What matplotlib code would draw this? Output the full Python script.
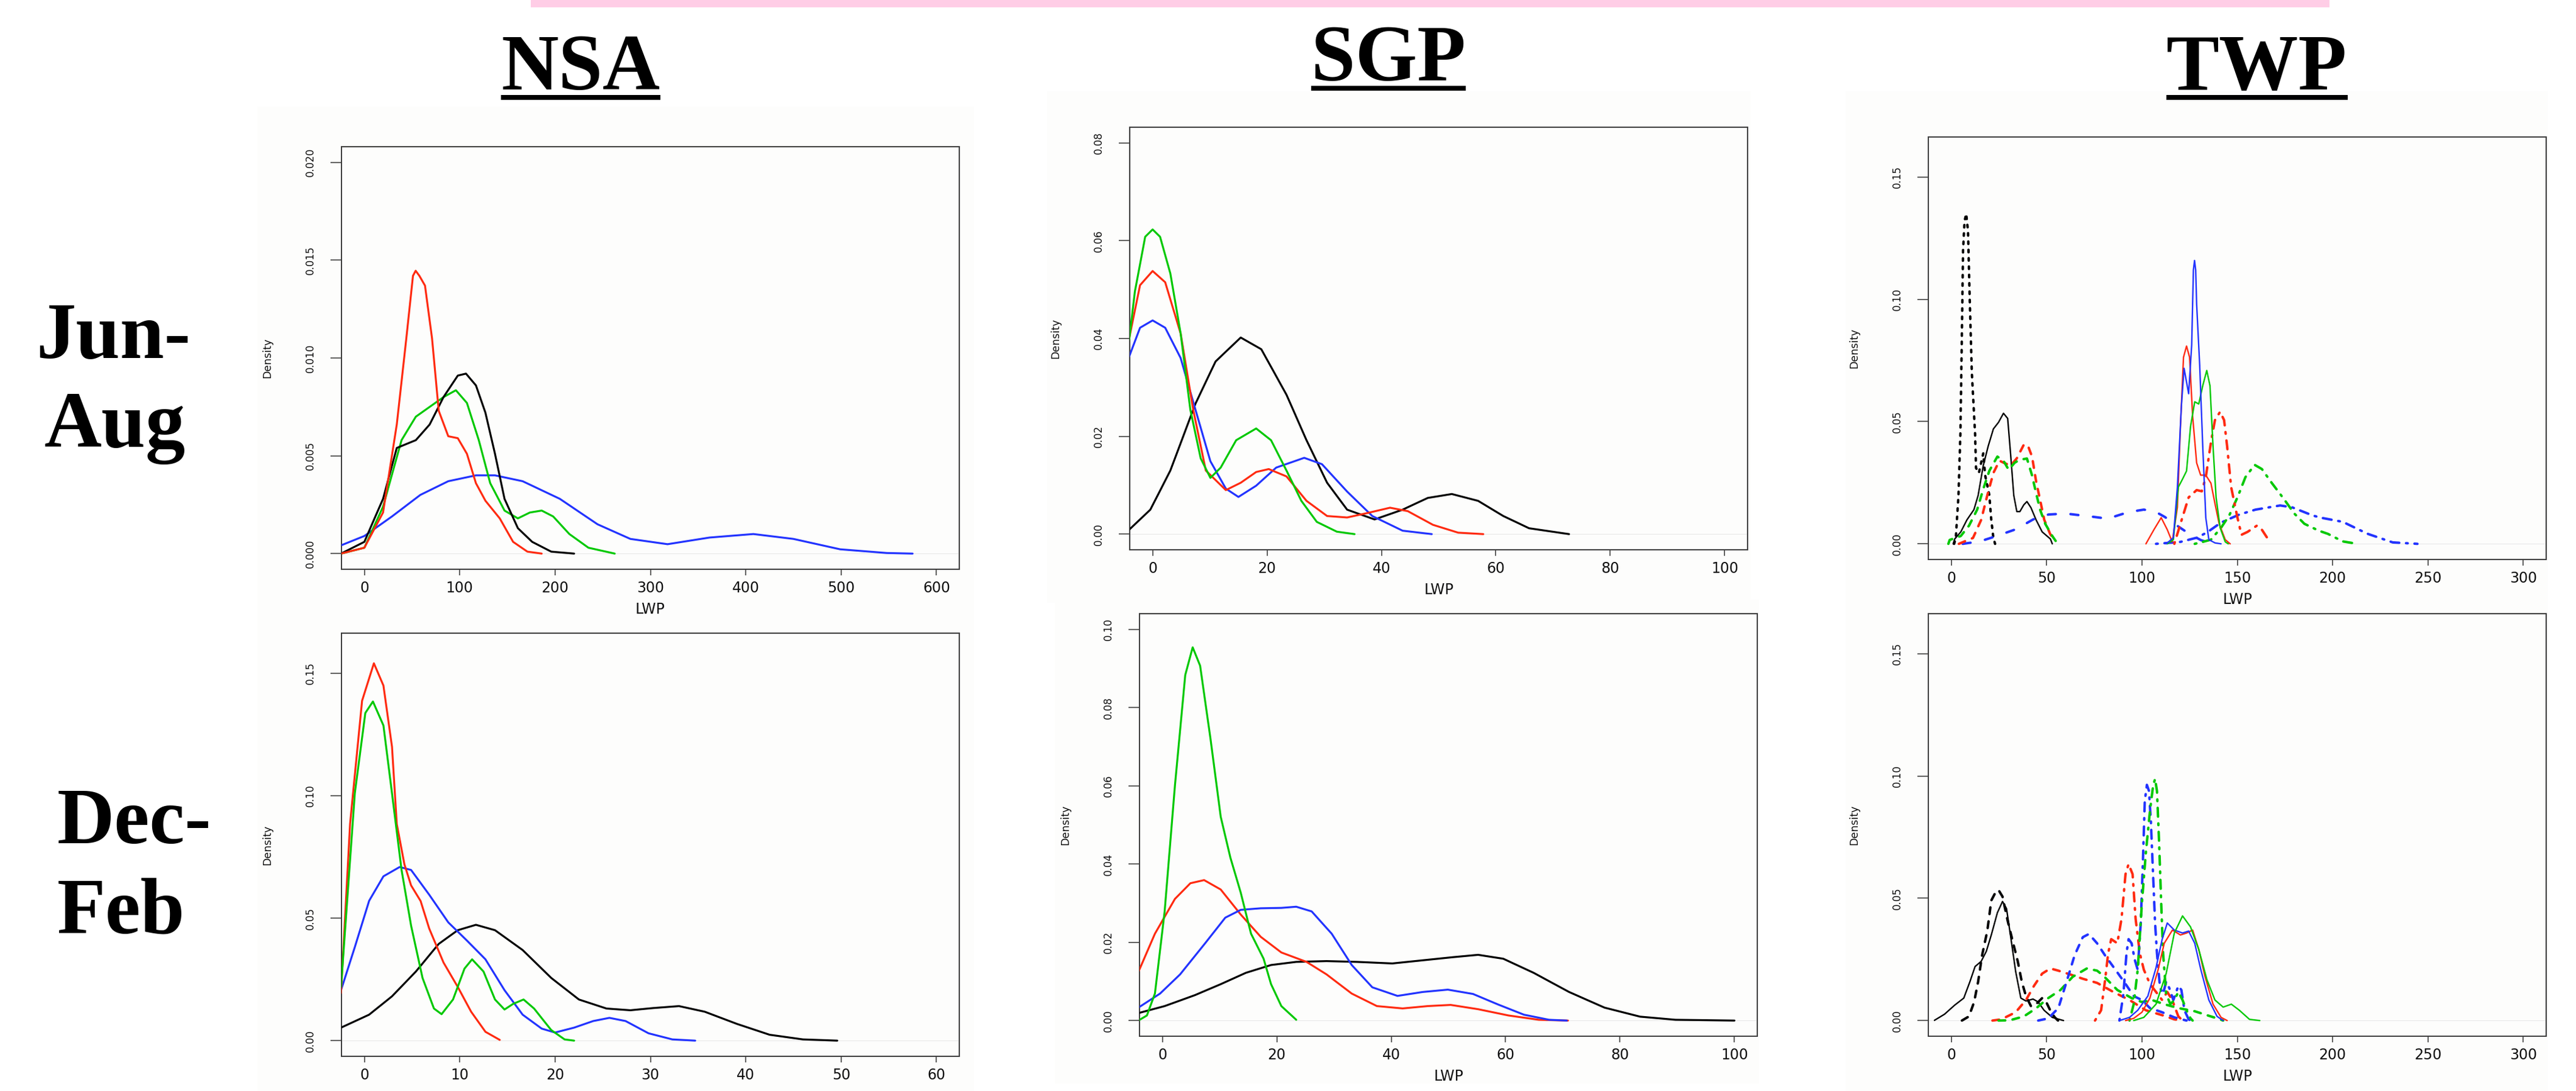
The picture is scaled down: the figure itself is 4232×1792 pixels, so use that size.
import matplotlib
matplotlib.use("Agg")
import matplotlib.pyplot as plt
from matplotlib.patches import Rectangle

W, H, DPI = 4232, 1792, 100

# ---------------- labels ----------------
sites = ["NSA", "SGP", "TWP"]
seasons = [["Jun-", "Aug"], ["Dec-", "Feb"]]
xlabel_text = "LWP"
ylabel_text = "Density"

# ---------------- axis ranges / ticks (R pads each range by 4%) ----------------
nsa_jja_xr, nsa_jja_yr = [0, 600], [0, 0.02]
nsa_jja_xt, nsa_jja_yt = [0, 100, 200, 300, 400, 500, 600], [0, 0.005, 0.010, 0.015, 0.020]
sgp_jja_xr, sgp_jja_yr = [0, 100], [0, 0.08]
sgp_jja_xt, sgp_jja_yt = [0, 20, 40, 60, 80, 100], [0, 0.02, 0.04, 0.06, 0.08]
twp_jja_xr, twp_jja_yr = [0, 300], [0, 0.16]
twp_jja_xt, twp_jja_yt = [0, 50, 100, 150, 200, 250, 300], [0, 0.05, 0.10, 0.15]
nsa_djf_xr, nsa_djf_yr = [0, 60], [0, 0.16]
nsa_djf_xt, nsa_djf_yt = [0, 10, 20, 30, 40, 50, 60], [0, 0.05, 0.10, 0.15]
sgp_djf_xr, sgp_djf_yr = [0, 100], [0, 0.10]
sgp_djf_xt, sgp_djf_yt = [0, 20, 40, 60, 80, 100], [0, 0.02, 0.04, 0.06, 0.08, 0.10]
twp_djf_xr, twp_djf_yr = [0, 300], [0, 0.16]
twp_djf_xt, twp_djf_yt = [0, 50, 100, 150, 200, 250, 300], [0, 0.05, 0.10, 0.15]

# ---------------- NSA Jun-Aug ----------------
nsa_jja_red_x = [-24.5, 0, 19.6, 34, 44, 51, 53.8, 57.7, 63.6, 71, 78, 88, 98, 107.6, 117, 127, 142, 156, 171, 186]
nsa_jja_red_y = [0, 0.0003, 0.0021, 0.0066, 0.011, 0.0142, 0.01446, 0.0142, 0.0137, 0.011, 0.0073, 0.006, 0.0059, 0.0051, 0.0036, 0.0027, 0.0018, 0.0006, 0.0001, 0]
nsa_jja_black_x = [-24.5, 0, 19.6, 34, 54, 68.5, 83, 98, 106.6, 117, 127, 137, 147, 161, 176, 196, 220]
nsa_jja_black_y = [0, 0.0006, 0.0028, 0.0054, 0.0058, 0.0066, 0.008, 0.0091, 0.0092, 0.0086, 0.0072, 0.0051, 0.0028, 0.0013, 0.0006, 0.0001, 0]
nsa_jja_green_x = [-24.5, 0, 19.6, 39, 54, 68.5, 83, 96, 107.6, 120, 132, 147, 161, 173.6, 186, 198, 215, 235, 262.6]
nsa_jja_green_y = [0, 0.0003, 0.0024, 0.0058, 0.007, 0.0075, 0.008, 0.00835, 0.0077, 0.0058, 0.0036, 0.0022, 0.0018, 0.0021, 0.0022, 0.0019, 0.001, 0.0003, 0]
nsa_jja_blue_x = [-24.5, 0, 29, 58.7, 88, 117, 137, 166, 205, 244.5, 279, 318, 362, 408, 450, 499, 548, 575]
nsa_jja_blue_y = [0.00042, 0.0009, 0.0019, 0.003, 0.0037, 0.004, 0.004, 0.0037, 0.0028, 0.0015, 0.00075, 0.00048, 0.00082, 0.001, 0.00075, 0.00022, 0.00003, 0]

# ---------------- SGP Jun-Aug ----------------
sgp_jja_green_x = [-4.1, -3.1, -1.3, 0, 1.3, 3.1, 4.9, 6.6, 8.4, 10.1, 11.9, 14.6, 18.1, 20.7, 23.4, 26, 28.7, 32.2, 35.3]
sgp_jja_green_y = [0.0397, 0.0496, 0.0608, 0.0623, 0.0608, 0.0533, 0.041, 0.0254, 0.0155, 0.0115, 0.0136, 0.0192, 0.0216, 0.0192, 0.013, 0.0068, 0.0025, 0.0005, 0]
sgp_jja_red_x = [-4.1, -2.2, 0, 2.2, 4.9, 7.1, 9.3, 12.8, 15.4, 18.1, 20.3, 23.4, 26.9, 30.5, 34, 37.5, 41.5, 44.6, 49, 53.4, 57.8]
sgp_jja_red_y = [0.040, 0.0509, 0.0538, 0.0515, 0.041, 0.0254, 0.013, 0.009, 0.0105, 0.0127, 0.0133, 0.0118, 0.0068, 0.0037, 0.0034, 0.0043, 0.0054, 0.0047, 0.0019, 0.0003, 0]
sgp_jja_blue_x = [-4.1, -2.2, 0, 2.2, 4.9, 7.5, 10.1, 12.8, 15, 18.1, 21.6, 26.5, 29.6, 34, 38.4, 43.7, 48.8]
sgp_jja_blue_y = [0.0363, 0.0422, 0.0437, 0.0422, 0.036, 0.0254, 0.0149, 0.0093, 0.0076, 0.0099, 0.0136, 0.0156, 0.0143, 0.0087, 0.0037, 0.0007, 0]
sgp_jja_black_x = [-4.1, -0.4, 3.1, 7.5, 11, 15.4, 19, 23.4, 26.9, 30.5, 34, 38.8, 43.7, 48.1, 52.3, 56.9, 61.3, 65.8, 72.8]
sgp_jja_black_y = [0.0009, 0.005, 0.013, 0.0267, 0.0353, 0.0402, 0.0378, 0.0285, 0.0192, 0.0105, 0.005, 0.003, 0.005, 0.0074, 0.0082, 0.0068, 0.0037, 0.0012, 0]

# ---------------- TWP Jun-Aug ----------------
twp_jja_black_dot_x = [1.5, 2.4, 3.8, 4.8, 5.6, 6.2, 7.0, 7.85, 8.8, 9.7, 10.8, 12.5, 13.0, 14.5, 16.8, 17.8, 19.96, 21.0, 22.1, 23]
twp_jja_black_dot_y = [0, 0.0024, 0.02, 0.045, 0.086, 0.12, 0.132, 0.135, 0.128, 0.1, 0.07, 0.045, 0.031, 0.029, 0.037, 0.028, 0.02, 0.0098, 0.0024, 0]
twp_jja_black_x = [1.0, 1.83, 5.03, 8.23, 11.9, 14.1, 16.8, 19.4, 22.1, 24.8, 27.4, 29.6, 31.2, 32.8, 34.4, 36, 38.1, 39.7, 41.8, 44.5, 47.7, 52, 53]
twp_jja_black_y = [0, 0.002, 0.0049, 0.0098, 0.014, 0.0198, 0.032, 0.04, 0.047, 0.0497, 0.0534, 0.0513, 0.036, 0.0198, 0.0132, 0.0132, 0.016, 0.0173, 0.0148, 0.0098, 0.0049, 0.002, 0]
twp_jja_red_dash_x = [4.0, 6.1, 11.4, 15.7, 18.9, 22.1, 25.3, 28.0, 31.2, 34.4, 38.1, 40.2, 42.4, 44.5, 46.6, 48.8, 51.9, 54.6]
twp_jja_red_dash_y = [0, 0.0007, 0.0024, 0.0098, 0.0198, 0.029, 0.034, 0.033, 0.032, 0.035, 0.0406, 0.0402, 0.0356, 0.0256, 0.018, 0.0098, 0.004, 0.001]
twp_jja_green_dash_x = [-1.5, -0.8, 5.0, 9.3, 13.6, 16.8, 20.0, 24.2, 27.4, 30.1, 33.3, 36.0, 39.7, 42.3, 44.5, 46.6, 49.3, 53.0, 55.2]
twp_jja_green_dash_y = [0, 0.0016, 0.0032, 0.0074, 0.014, 0.0224, 0.0299, 0.0357, 0.034, 0.0303, 0.0332, 0.0344, 0.0349, 0.0282, 0.0208, 0.014, 0.0082, 0.0032, 0.0007]
twp_jja_blue_dash_x = [6, 15, 23, 34, 43, 51, 60, 73, 82, 93, 101, 107, 112, 117, 125, 131, 136, 140]
twp_jja_blue_dash_y = [0, 0.001, 0.003, 0.006, 0.010, 0.012, 0.0124, 0.0112, 0.0103, 0.013, 0.014, 0.0132, 0.011, 0.0082, 0.004, 0.0015, 0.0003, 0]
twp_jja_red_x = [102.1, 106.3, 110.1, 113.3, 115.9, 118.6, 120.2, 121.8, 123.4, 125, 126.6, 128.7, 130.8, 133.5, 136.2, 138.3, 140.5, 143.7, 146.3]
twp_jja_red_y = [0, 0.0058, 0.0107, 0.0058, 0.0008, 0.0149, 0.048, 0.0763, 0.0809, 0.0763, 0.0522, 0.0331, 0.0281, 0.0281, 0.0248, 0.0165, 0.0082, 0.0017, 0]
twp_jja_blue_x = [112.7, 116.5, 118.6, 120.7, 122.1, 124.5, 126.1, 127.0, 127.6, 128.2, 128.7, 130.3, 131.9, 133.5, 135.1, 138.3, 141.5]
twp_jja_blue_y = [0, 0.0025, 0.0232, 0.0564, 0.0718, 0.0614, 0.0813, 0.112, 0.1159, 0.112, 0.098, 0.073, 0.0398, 0.0107, 0.0017, 0.0004, 0]
twp_jja_green_x = [113.3, 116.5, 119.1, 121.3, 123.4, 125.5, 127.7, 129.8, 131.9, 134.0, 135.7, 137.3, 138.9, 141, 143.7, 145.3]
twp_jja_green_y = [0, 0.0017, 0.0232, 0.0265, 0.0298, 0.048, 0.0581, 0.0572, 0.0647, 0.0709, 0.0647, 0.0398, 0.019, 0.0066, 0.0008, 0]
twp_jja_red_dd_x = [117, 120.2, 124.5, 128.7, 131.4, 133.5, 136.2, 138.3, 141, 143.1, 144.7, 146.8, 150.1, 152.2, 155.4, 160.2, 162.9, 166, 167.6]
twp_jja_red_dd_y = [0, 0.0082, 0.019, 0.022, 0.0215, 0.0273, 0.0415, 0.0506, 0.054, 0.0506, 0.0398, 0.0232, 0.0107, 0.0037, 0.0049, 0.0074, 0.0058, 0.0021, 0.0008]
twp_jja_green_dd_x = [127.7, 131.9, 136.2, 141.5, 145.8, 150.1, 154.3, 159.1, 162.9, 168.2, 174.6, 179.9, 185.2, 192.7, 197.5, 205.3, 213]
twp_jja_green_dd_y = [0, 0.0008, 0.0017, 0.0066, 0.0116, 0.019, 0.0273, 0.0323, 0.0306, 0.0248, 0.0182, 0.0124, 0.0082, 0.0054, 0.0041, 0.001, 0]
twp_jja_blue_dd_x = [107.4, 120.2, 128.7, 134, 141.5, 151.1, 159.6, 172.5, 178.9, 189.6, 193.8, 205.3, 218.4, 231.5, 244.5]
twp_jja_blue_dd_y = [0, 0.0008, 0.0025, 0.0046, 0.0087, 0.012, 0.014, 0.0157, 0.0149, 0.0116, 0.0107, 0.009, 0.0041, 0.0006, 0]

# ---------------- NSA Dec-Feb ----------------
nsa_djf_red_x = [-2.45, -1.5, -0.24, 1.0, 2.0, 2.9, 3.4, 4.2, 4.9, 5.9, 6.8, 8.3, 9.8, 11.2, 12.7, 14.2]
nsa_djf_red_y = [0.0194, 0.0885, 0.1388, 0.1541, 0.145, 0.12, 0.0885, 0.072, 0.0634, 0.057, 0.0458, 0.0319, 0.0219, 0.0118, 0.0036, 0.0003]
nsa_djf_green_x = [-2.45, -1.0, 0.1, 0.9, 2.0, 2.9, 3.9, 4.9, 6.1, 7.3, 8.1, 9.3, 10.5, 11.3, 12.5, 13.7, 14.7, 15.6, 16.7, 17.8, 19.6, 21.0, 22.0]
nsa_djf_green_y = [0.0219, 0.101, 0.1338, 0.1385, 0.1287, 0.101, 0.0697, 0.047, 0.0256, 0.0131, 0.0108, 0.0168, 0.0294, 0.0332, 0.0282, 0.0168, 0.0127, 0.015, 0.0168, 0.0131, 0.0043, 0.0005, 0]
nsa_djf_blue_x = [-2.45, -1.0, 0.5, 2.0, 3.7, 4.9, 6.8, 8.8, 10.8, 12.7, 14.7, 16.6, 18.6, 20.0, 22.0, 24.0, 25.7, 27.4, 29.8, 32.3, 34.7]
nsa_djf_blue_y = [0.0206, 0.0382, 0.0571, 0.0671, 0.0709, 0.0697, 0.0596, 0.0483, 0.0407, 0.0332, 0.0206, 0.0106, 0.0049, 0.0033, 0.0053, 0.008, 0.0093, 0.008, 0.003, 0.0005, 0]
nsa_djf_black_x = [-2.45, 0.5, 2.9, 5.4, 7.8, 9.8, 11.7, 13.7, 16.6, 19.6, 22.5, 25.4, 27.9, 30.3, 33.0, 35.7, 39.1, 42.5, 46.0, 49.6]
nsa_djf_black_y = [0.0053, 0.0106, 0.0181, 0.0282, 0.0395, 0.0451, 0.0473, 0.0451, 0.037, 0.0256, 0.0168, 0.0131, 0.0124, 0.0133, 0.0141, 0.0118, 0.0068, 0.0024, 0.0005, 0]

# ---------------- SGP Dec-Feb ----------------
sgp_djf_green_x = [-4.2, -2.7, -1.3, 0.4, 2.2, 4.0, 5.3, 6.6, 8.4, 10.2, 11.9, 13.7, 15.5, 17.7, 19.0, 20.8, 23.4]
sgp_djf_green_y = [0, 0.0013, 0.0069, 0.0279, 0.0601, 0.0883, 0.0954, 0.0907, 0.0722, 0.0521, 0.0416, 0.0327, 0.0222, 0.0158, 0.0093, 0.0037, 0.0002]
sgp_djf_red_x = [-4.2, -1.3, 2.2, 4.9, 7.3, 10.2, 13.7, 17.2, 20.8, 25.2, 28.7, 33.1, 37.5, 42.0, 46.4, 50.4, 55.2, 60.5, 65.8, 70.9]
sgp_djf_red_y = [0.0124, 0.0222, 0.0311, 0.0351, 0.0359, 0.0335, 0.0271, 0.0214, 0.0174, 0.015, 0.0118, 0.0069, 0.0037, 0.0031, 0.0037, 0.004, 0.0029, 0.0013, 0.0002, 0]
sgp_djf_blue_x = [-4.2, -0.4, 3.1, 7.5, 11.0, 13.7, 17.2, 20.8, 23.4, 26.1, 29.6, 33.1, 36.7, 41.1, 45.5, 49.9, 54.3, 58.7, 63.2, 67.6, 70.7]
sgp_djf_blue_y = [0.0033, 0.0069, 0.0118, 0.0198, 0.0263, 0.0283, 0.0287, 0.0288, 0.0291, 0.0279, 0.0222, 0.0142, 0.0085, 0.0063, 0.0073, 0.0079, 0.0068, 0.0041, 0.0015, 0.0002, 0]
sgp_djf_black_x = [-4.2, 0.4, 5.7, 10.2, 14.6, 19.0, 23.4, 28.7, 34.0, 40.2, 45.5, 50.8, 55.2, 59.6, 64.9, 71.1, 77.3, 83.5, 89.7, 100]
sgp_djf_black_y = [0.0019, 0.0037, 0.0065, 0.0093, 0.0122, 0.0142, 0.015, 0.0152, 0.015, 0.0146, 0.0154, 0.0162, 0.0168, 0.0158, 0.0122, 0.0073, 0.0033, 0.001, 0.0002, 0]

# ---------------- TWP Dec-Feb ----------------
twp_djf_black_x = [-8.8, -3.5, 1.8, 6.6, 9.8, 12.5, 15.7, 18.4, 21.0, 24.2, 26.9, 29.0, 31.2, 33.8, 36.5, 39.2, 42.9, 45.6, 48.7, 53.0, 58.9]
twp_djf_black_y = [0.0001, 0.0026, 0.0063, 0.0092, 0.0159, 0.0221, 0.0242, 0.0283, 0.035, 0.0441, 0.0487, 0.0458, 0.0341, 0.02, 0.0092, 0.008, 0.0088, 0.0076, 0.0042, 0.0013, 0]
twp_djf_black_dash_x = [5.6, 9.3, 12.0, 14.1, 16.2, 18.9, 21.0, 23.2, 24.8, 26.9, 29.6, 32.2, 34.9, 37.0, 39.2, 41.8, 44.5, 47.7, 49.8, 51.9, 54.1, 56]
twp_djf_black_dash_y = [0, 0.0017, 0.0076, 0.0159, 0.0267, 0.0366, 0.0491, 0.0524, 0.0534, 0.0507, 0.0408, 0.0325, 0.0242, 0.0159, 0.01, 0.0059, 0.0067, 0.0092, 0.0076, 0.0042, 0.0015, 0]
twp_djf_red_dash_x = [21.6, 26.3, 33.8, 39.2, 43.4, 47.7, 52.0, 56.2, 62.6, 69.0, 76.5, 85, 93.5, 102.1, 110.6, 117, 121.3]
twp_djf_red_dash_y = [0, 0.0005, 0.0034, 0.0084, 0.0142, 0.0192, 0.0213, 0.0204, 0.0188, 0.0171, 0.0154, 0.0117, 0.0084, 0.0042, 0.0022, 0.0005, 0]
twp_djf_green_dash_x = [24.8, 30.6, 38.1, 44.5, 50.9, 57.3, 63.7, 71.1, 76.5, 79.7, 87.1, 94.6, 99.9, 105.3, 111.7, 119.1, 127.7, 134.1, 139.4, 142.6]
twp_djf_green_dash_y = [0, 0.0001, 0.0017, 0.005, 0.0092, 0.0125, 0.0179, 0.0213, 0.0204, 0.0184, 0.0125, 0.0092, 0.0076, 0.0084, 0.0067, 0.0051, 0.0038, 0.0022, 0.0009, 0]
twp_djf_blue_dash_x = [45.6, 50.9, 56.2, 60.5, 64.7, 69.0, 72.2, 76.5, 80.7, 86.1, 91.4, 95.7, 100, 104.2, 110.6, 117, 123.4]
twp_djf_blue_dash_y = [0, 0.0009, 0.0051, 0.0159, 0.0267, 0.0341, 0.0354, 0.0316, 0.0266, 0.0208, 0.015, 0.01, 0.0084, 0.0051, 0.0034, 0.0013, 0]
twp_djf_red_dd_x = [75.4, 78.6, 80.7, 82.3, 83.9, 87.1, 89.3, 91.4, 93.0, 95.1, 96.7, 98.9, 101, 104.2, 107.4, 110.6, 113.3, 115.9, 119.1, 121.3]
twp_djf_red_dd_y = [0, 0.0042, 0.0167, 0.0275, 0.0333, 0.0316, 0.0416, 0.0599, 0.064, 0.0599, 0.0416, 0.0275, 0.0208, 0.015, 0.0117, 0.0084, 0.0117, 0.0084, 0.0017, 0]
twp_djf_blue_dd_x = [88.2, 90.3, 91.9, 93.0, 94.6, 96.2, 97.8, 99.4, 100.5, 101.5, 102.6, 103.7, 104.7, 105.8, 106.9, 107.9, 109.5, 111.1, 112.7, 114.3, 116.5, 119.1, 120.7, 122.3, 124.5, 125.5]
twp_djf_blue_dd_y = [0, 0.0109, 0.0275, 0.0333, 0.0316, 0.025, 0.0208, 0.04, 0.0648, 0.0898, 0.0964, 0.0939, 0.0815, 0.0607, 0.04, 0.0275, 0.0134, 0.0109, 0.0159, 0.0134, 0.0084, 0.0142, 0.0125, 0.0042, 0.0005, 0]
twp_djf_green_dd_x = [93.5, 95.7, 97.8, 100, 102.1, 104.2, 105.8, 106.9, 107.9, 109, 110.1, 111.1, 112.7, 114.9, 117, 119.1, 121.3, 123.4, 125.5, 126.6]
twp_djf_green_dd_y = [0, 0.0067, 0.0208, 0.0482, 0.069, 0.0856, 0.0956, 0.0989, 0.0939, 0.0731, 0.0482, 0.0275, 0.0109, 0.0067, 0.0084, 0.0117, 0.0084, 0.0042, 0.0009, 0]
twp_djf_red_x = [91.4, 95.7, 100, 104.2, 108.5, 111.7, 116, 120.2, 123.4, 126.6, 129.8, 133, 137.3, 141.5, 144.7]
twp_djf_red_y = [0, 0.0009, 0.0034, 0.0092, 0.0208, 0.0316, 0.037, 0.035, 0.0358, 0.037, 0.0291, 0.0183, 0.0067, 0.0013, 0]
twp_djf_blue_x = [88.2, 93.5, 97.8, 103.1, 107.4, 110.6, 113.3, 117, 121.3, 124.5, 127.7, 130.9, 135.1, 139.4, 142.6]
twp_djf_blue_y = [0, 0.0013, 0.0042, 0.01, 0.0216, 0.0332, 0.0399, 0.037, 0.0358, 0.0366, 0.0316, 0.0208, 0.0084, 0.0017, 0]
twp_djf_green_x = [95.7, 101, 107.4, 112.7, 117, 121.3, 125.5, 129.8, 134.1, 138.3, 142.6, 146.9, 151.1, 156.4, 161.8]
twp_djf_green_y = [0, 0.0013, 0.0067, 0.0192, 0.0358, 0.0428, 0.0383, 0.0291, 0.0167, 0.0084, 0.0055, 0.0067, 0.0042, 0.0005, 0]

# ---------------- styling ----------------
RED, GREEN, BLUE, BLACK = "#ff2a10", "#00c800", "#2233ff", "#000000"
PANEL_BG = "#fdfdfc"
STYLES = {
    "solid": dict(ls="-", lw=2.3),
    "thin": dict(ls="-", lw=1.7),
    "dotted": dict(ls=(0, (1.0, 2.4)), lw=2.9, dash_capstyle="round"),
    "dashed": dict(ls=(0, (2.75, 3.0)), lw=2.9, dash_capstyle="round"),
    "longdash": dict(ls=(0, (3.25, 6.0)), lw=2.9, dash_capstyle="round"),
    "dotdash": dict(ls=(0, (0.7, 2.75, 3.6, 2.75)), lw=2.9, dash_capstyle="round"),
}

plt.rcParams["font.family"] = ["DejaVu Sans"]
plt.rcParams["lines.solid_capstyle"] = "round"

fig = plt.figure(figsize=(W / DPI, H / DPI), dpi=DPI)
fig.patch.set_facecolor("white")


def fig_rect(l, t, r, b, color, z=-5):
    # rectangle given in pixel coords measured from the top-left corner
    fig.patches.append(Rectangle((l / W, 1 - b / H), (r - l) / W, (b - t) / H,
                                 transform=fig.transFigure, facecolor=color,
                                 edgecolor="none", zorder=z))


def panel(box, xr, yr, xt, yt, ydec, curves, xlabel=True):
    l, t, r, b = box
    ax = fig.add_axes([l / W, 1 - b / H, (r - l) / W, (b - t) / H])
    ax.set_facecolor(PANEL_BG)
    px, py = 0.04 * (xr[1] - xr[0]), 0.04 * (yr[1] - yr[0])
    ax.set_xlim(xr[0] - px, xr[1] + px)
    ax.set_ylim(yr[0] - py, yr[1] + py)
    ax.axhline(0, color="#e2e2e2", lw=0.6, zorder=1)
    for x, y, c, s in curves:
        ax.plot(x, y, color=c, zorder=3, **STYLES[s])
    ax.set_xticks(xt)
    ax.set_xticklabels([str(v) for v in xt])
    ax.set_yticks(yt)
    ax.set_yticklabels([f"{v:.{ydec}f}" for v in yt])
    ax.tick_params(axis="x", direction="out", length=7, width=1.1, color="#333333",
                   labelsize=17, pad=7, labelcolor="#111111")
    ax.tick_params(axis="y", direction="out", length=13, width=1.1, color="#333333",
                   labelsize=12, pad=17, labelrotation=90, labelcolor="#111111")
    for lab in ax.get_yticklabels():
        lab.set_va("center")
    for side, sp in ax.spines.items():
        sp.set_color("#3a3a3a")
        sp.set_linewidth(1.4)
    ax.text(-122 / (r - l), 0.5, ylabel_text, transform=ax.transAxes, rotation=90,
            ha="center", va="center", fontsize=12.5, color="#111111")
    if xlabel:
        ax.text(0.5, -66 / (b - t), xlabel_text, transform=ax.transAxes,
                ha="center", va="center", fontsize=17, color="#111111")
    return ax


# light backgrounds of the pasted R images
fig_rect(423, 175, 1600, 1010, PANEL_BG)
fig_rect(423, 1010, 1600, 1792, PANEL_BG)
fig_rect(1720, 150, 2876, 990, PANEL_BG)
fig_rect(1733, 985, 2890, 1780, PANEL_BG)
fig_rect(3032, 150, 4186, 990, PANEL_BG)
fig_rect(3032, 985, 4186, 1792, PANEL_BG)

# pink band at the very top
fig_rect(872, 0, 3827, 12, "#ffcde6")

panel((561, 241, 1576, 935), nsa_jja_xr, nsa_jja_yr, nsa_jja_xt, nsa_jja_yt, 3, [
    (nsa_jja_blue_x, nsa_jja_blue_y, BLUE, "solid"),
    (nsa_jja_green_x, nsa_jja_green_y, GREEN, "solid"),
    (nsa_jja_black_x, nsa_jja_black_y, BLACK, "solid"),
    (nsa_jja_red_x, nsa_jja_red_y, RED, "solid"),
])
panel((1856, 209, 2871, 903), sgp_jja_xr, sgp_jja_yr, sgp_jja_xt, sgp_jja_yt, 2, [
    (sgp_jja_black_x, sgp_jja_black_y, BLACK, "solid"),
    (sgp_jja_blue_x, sgp_jja_blue_y, BLUE, "solid"),
    (sgp_jja_red_x, sgp_jja_red_y, RED, "solid"),
    (sgp_jja_green_x, sgp_jja_green_y, GREEN, "solid"),
])
panel((3168, 225, 4183, 919), twp_jja_xr, twp_jja_yr, twp_jja_xt, twp_jja_yt, 2, [
    (twp_jja_black_x, twp_jja_black_y, BLACK, "thin"),
    (twp_jja_black_dot_x, twp_jja_black_dot_y, BLACK, "dotted"),
    (twp_jja_blue_dash_x, twp_jja_blue_dash_y, BLUE, "longdash"),
    (twp_jja_red_dash_x, twp_jja_red_dash_y, RED, "dashed"),
    (twp_jja_green_dash_x, twp_jja_green_dash_y, GREEN, "dashed"),
    (twp_jja_blue_dd_x, twp_jja_blue_dd_y, BLUE, "dotdash"),
    (twp_jja_green_dd_x, twp_jja_green_dd_y, GREEN, "dotdash"),
    (twp_jja_red_dd_x, twp_jja_red_dd_y, RED, "dotdash"),
    (twp_jja_red_x, twp_jja_red_y, RED, "thin"),
    (twp_jja_green_x, twp_jja_green_y, GREEN, "thin"),
    (twp_jja_blue_x, twp_jja_blue_y, BLUE, "thin"),
])
panel((561, 1040, 1576, 1735), nsa_djf_xr, nsa_djf_yr, nsa_djf_xt, nsa_djf_yt, 2, [
    (nsa_djf_black_x, nsa_djf_black_y, BLACK, "solid"),
    (nsa_djf_blue_x, nsa_djf_blue_y, BLUE, "solid"),
    (nsa_djf_red_x, nsa_djf_red_y, RED, "solid"),
    (nsa_djf_green_x, nsa_djf_green_y, GREEN, "solid"),
], xlabel=False)
panel((1872, 1008, 2887, 1702), sgp_djf_xr, sgp_djf_yr, sgp_djf_xt, sgp_djf_yt, 2, [
    (sgp_djf_black_x, sgp_djf_black_y, BLACK, "solid"),
    (sgp_djf_red_x, sgp_djf_red_y, RED, "solid"),
    (sgp_djf_blue_x, sgp_djf_blue_y, BLUE, "solid"),
    (sgp_djf_green_x, sgp_djf_green_y, GREEN, "solid"),
])
panel((3168, 1008, 4183, 1702), twp_djf_xr, twp_djf_yr, twp_djf_xt, twp_djf_yt, 2, [
    (twp_djf_black_x, twp_djf_black_y, BLACK, "thin"),
    (twp_djf_black_dash_x, twp_djf_black_dash_y, BLACK, "dashed"),
    (twp_djf_red_dash_x, twp_djf_red_dash_y, RED, "dashed"),
    (twp_djf_green_dash_x, twp_djf_green_dash_y, GREEN, "dashed"),
    (twp_djf_blue_dash_x, twp_djf_blue_dash_y, BLUE, "dashed"),
    (twp_djf_red_dd_x, twp_djf_red_dd_y, RED, "dotdash"),
    (twp_djf_blue_dd_x, twp_djf_blue_dd_y, BLUE, "dotdash"),
    (twp_djf_green_dd_x, twp_djf_green_dd_y, GREEN, "dotdash"),
    (twp_djf_red_x, twp_djf_red_y, RED, "thin"),
    (twp_djf_blue_x, twp_djf_blue_y, BLUE, "thin"),
    (twp_djf_green_x, twp_djf_green_y, GREEN, "thin"),
])

# ---------------- big serif headings ----------------
serif = ["Liberation Serif", "DejaVu Serif"]
renderer = fig.canvas.get_renderer()
title_pos = [(954, 147), (2281, 132), (3708, 147)]   # centre x, baseline y (px from top)
for name, (cx, base) in zip(sites, title_pos):
    t = fig.text(cx / W, 1 - base / H, name, ha="center", va="baseline",
                 fontsize=94, fontweight="bold", family=serif)
    bb = t.get_window_extent(renderer)
    # underline just below the baseline
    fig_rect(bb.x0, base + 9, bb.x1, base + 17, "black", z=2)

row_pos = [[(59, 588), (73, 734)], [(94, 1385), (94, 1533)]]  # left x, baseline y
for lines, pos in zip(seasons, row_pos):
    for txt, (lx, base) in zip(lines, pos):
        fig.text(lx / W, 1 - base / H, txt, ha="left", va="baseline",
                 fontsize=94, fontweight="bold", family=serif)

fig.savefig("out.png", dpi=DPI)
